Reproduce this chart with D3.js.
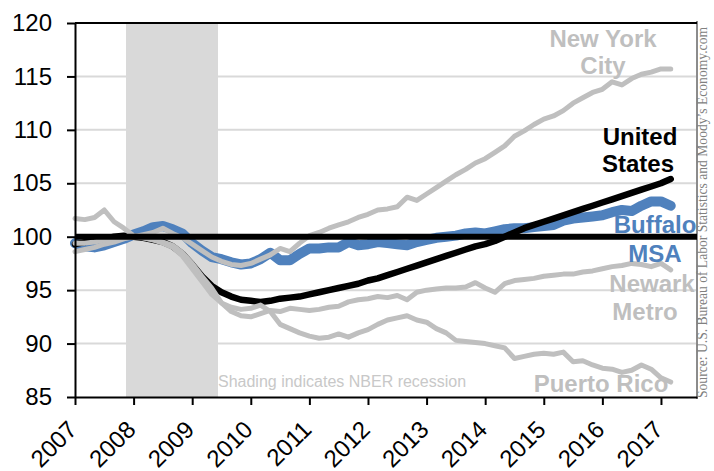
<!DOCTYPE html>
<html>
<head>
<meta charset="utf-8">
<script src="https://cdn.jsdelivr.net/npm/d3@7"></script>
<style>
  body { margin: 0; background: #fff; }
  svg { display: block; font-family: "Liberation Sans", Arial, sans-serif; }
</style>
</head>
<body>
<div id="chart"></div>
<script>
// data: employment index, months since Jan 2007 (every 2nd month)
const months = [0, 2, 4, 6, 8, 10, 12, 14, 16, 18, 20, 22, 24, 26, 28, 30, 32, 34, 36, 38,
  40, 42, 44, 46, 48, 50, 52, 54, 56, 58, 60, 62, 64, 66, 68, 70, 72, 74, 76, 78,
  80, 82, 84, 86, 88, 90, 92, 94, 96, 98, 100, 102, 104, 106, 108, 110, 112, 114, 116, 118,
  120, 122];

const unitedStates = [99.3, 99.5, 99.7, 99.8, 100.0, 100.1, 100.0, 99.9, 99.7, 99.5,
  99.1, 98.4, 97.4, 96.3, 95.4, 94.8, 94.4, 94.1, 94.0, 93.9,
  94.0, 94.2, 94.3, 94.4, 94.6, 94.8, 95.0, 95.2, 95.4, 95.6,
  95.9, 96.1, 96.4, 96.7, 97.0, 97.3, 97.6, 97.9, 98.2, 98.5,
  98.8, 99.1, 99.3, 99.6, 100.0, 100.4, 100.8, 101.1, 101.4, 101.7,
  102.0, 102.3, 102.6, 102.9, 103.2, 103.5, 103.8, 104.1, 104.4, 104.7,
  105.0, 105.4];

const buffalo = [99.4, 99.1, 99.0, 99.2, 99.5, 99.8, 100.2, 100.5, 100.9, 101.0,
  100.7, 100.3, 99.4, 98.7, 98.1, 97.9, 97.6, 97.4, 97.5, 97.9,
  98.5, 97.8, 97.8, 98.4, 98.9, 98.9, 99.0, 99.0, 99.5, 99.2,
  99.3, 99.5, 99.4, 99.3, 99.2, 99.5, 99.7, 99.9, 100.0, 100.1,
  100.3, 100.4, 100.3, 100.5, 100.7, 100.8, 100.8, 100.9, 101.0, 101.1,
  101.5, 101.7, 101.8, 101.9, 102.0, 102.3, 102.5, 102.4, 102.9, 103.3,
  103.3, 102.9];

const newYorkCity = [98.6, 98.8, 99.0, 99.3, 99.5, 99.8, 100.0, 100.2, 100.4, 100.8,
  100.3, 99.9, 99.3, 98.7, 98.1, 97.7, 97.4, 97.3, 97.5, 97.9,
  98.3, 98.9, 98.6, 99.4, 100.1, 100.4, 100.8, 101.1, 101.4, 101.8,
  102.1, 102.5, 102.6, 102.8, 103.7, 103.4, 104.0, 104.6, 105.2, 105.8,
  106.3, 106.9, 107.3, 107.9, 108.5, 109.4, 109.9, 110.5, 111.0, 111.3,
  111.8, 112.5, 113.0, 113.5, 113.8, 114.5, 114.2, 114.8, 115.2, 115.4,
  115.7, 115.7];

const newark = [99.4, 99.4, 99.5, 99.7, 99.8, 99.9, 100.0, 99.9, 99.7, 99.5,
  99.2, 98.5, 97.5, 96.3, 95.2, 93.8, 93.0, 92.6, 92.5, 92.8,
  93.1, 93.0, 93.3, 93.2, 93.1, 93.2, 93.4, 93.5, 93.9, 94.1,
  94.2, 94.4, 94.3, 94.5, 94.1, 94.8, 95.0, 95.1, 95.2, 95.2,
  95.3, 95.7, 95.2, 94.8, 95.6, 95.9, 96.0, 96.1, 96.3, 96.4,
  96.5, 96.5, 96.7, 96.8, 97.0, 97.2, 97.3, 97.5, 97.4, 97.2,
  97.5, 96.9];

const puertoRico = [101.7, 101.6, 101.8, 102.5, 101.4, 100.8, 100.1, 99.9, 99.7, 99.4,
  99.0, 98.2, 97.0, 95.8, 94.6, 93.8, 93.4, 93.2, 93.3, 93.6,
  93.0, 91.8, 91.4, 91.0, 90.7, 90.5, 90.6, 90.9, 90.6, 91.0,
  91.3, 91.8, 92.2, 92.4, 92.6, 92.2, 92.0, 91.4, 91.0, 90.3,
  90.2, 90.1, 90.0, 89.8, 89.6, 88.6, 88.8, 89.0, 89.1, 89.0,
  89.2, 88.3, 88.4, 88.0, 87.7, 87.6, 87.3, 87.5, 88.0, 87.6,
  86.8, 86.4];

const yTicks = [85, 90, 95, 100, 105, 110, 115, 120];
const xTicks = [2007, 2008, 2009, 2010, 2011, 2012, 2013, 2014, 2015, 2016, 2017];
const recession = [2007.87, 2009.44];

const W = 714, H = 471;
const margin = { top: 23, right: 17, bottom: 74, left: 75 };

const svg = d3.select("#chart").append("svg")
  .attr("width", W)
  .attr("height", H);

// scales
const x = d3.scaleLinear()
  .domain([2007, 2017.615])
  .range([margin.left, W - margin.right]);

const y = d3.scaleLinear()
  .domain([85, 120])
  .range([H - margin.bottom, margin.top]);

const gray = "#bfbfbf";
const blue = "#4f81bd";

// gridlines
svg.append("g")
  .selectAll("line")
  .data(yTicks.filter((d) => d !== 85 && d !== 120 && d !== 100))
  .enter()
  .append("line")
  .attr("x1", x.range()[0])
  .attr("x2", x.range()[1])
  .attr("y1", (d) => y(d))
  .attr("y2", (d) => y(d))
  .attr("stroke", "#d9d9d9")
  .attr("stroke-width", 2);

// recession shading
svg.append("rect")
  .attr("x", x(recession[0]))
  .attr("y", y(120))
  .attr("width", x(recession[1]) - x(recession[0]))
  .attr("height", y(85) - y(120))
  .attr("fill", "#d9d9d9");

svg.append("text")
  .attr("x", x(recession[1]))
  .attr("y", 387)
  .attr("fill", "#c8c8c8")
  .style("font-size", "16px")
  .text("Shading indicates NBER recession");

// right border + top border
svg.append("line")
  .attr("x1", x.range()[1]).attr("x2", x.range()[1])
  .attr("y1", y(120) - 2).attr("y2", y(85) + 2)
  .attr("stroke", "#8c8c8c")
  .attr("stroke-width", 2);

svg.append("line")
  .attr("x1", x.range()[0]).attr("x2", x.range()[1])
  .attr("y1", y(120)).attr("y2", y(120))
  .attr("stroke", "#000")
  .attr("stroke-width", 2);

// lines
const series = [
  { values: buffalo, color: blue, width: 10 },
  { values: unitedStates, color: "#000", width: 6.5 },
  { values: newYorkCity, color: gray, width: 5 },
  { values: newark, color: gray, width: 5 },
  { values: puertoRico, color: gray, width: 5 },
];

const line = (values) => d3.line()
  .x((d, i) => x(2007 + months[i] / 12))
  .y((d) => y(d))(values);

series.forEach((s) => {
  svg.append("path")
    .attr("d", line(s.values))
    .attr("fill", "none")
    .attr("stroke", s.color)
    .attr("stroke-width", s.width)
    .attr("stroke-linejoin", "round")
    .attr("stroke-linecap", "round");
});

// base 100 line
svg.append("line")
  .attr("x1", x.range()[0]).attr("x2", x.range()[1])
  .attr("y1", y(100)).attr("y2", y(100))
  .attr("stroke", "#000")
  .attr("stroke-width", 6);

// axes
const yAxis = svg.append("g")
  .attr("transform", `translate(${margin.left},0)`)
  .call(d3.axisLeft(y).tickValues(yTicks).tickSize(8).tickSizeOuter(0).tickPadding(15));

const xAxis = svg.append("g")
  .attr("transform", `translate(0,${y(85)})`)
  .call(d3.axisBottom(x).tickValues(xTicks).tickFormat(d3.format("d")).tickSize(8).tickSizeOuter(0));

[yAxis, xAxis].forEach((g) => {
  g.select(".domain").attr("stroke", "#000").attr("stroke-width", 2);
  g.selectAll(".tick line").attr("stroke", "#000").attr("stroke-width", 2);
  g.selectAll("text")
    .style("font-family", "'Liberation Sans', Arial, sans-serif")
    .style("font-size", "24px")
    .attr("fill", "#000");
});

// rotated year labels (sit low, as in the original)
xAxis.selectAll("text")
  .attr("text-anchor", "end")
  .attr("dy", null)
  .attr("y", 0)
  .attr("transform", "translate(3,34) rotate(-45)");

// series labels
const labels = [
  { text: "New York", x: 603, y: 47, color: gray },
  { text: "City", x: 603, y: 74, color: gray },
  { text: "United", x: 640, y: 145, color: "#000" },
  { text: "States", x: 638, y: 172, color: "#000" },
  { text: "Buffalo", x: 655, y: 233, color: blue },
  { text: "MSA", x: 655, y: 262, color: blue },
  { text: "Newark", x: 652, y: 292, color: gray },
  { text: "Metro", x: 645, y: 320, color: gray },
  { text: "Puerto Rico", x: 601, y: 392, color: gray },
];

svg.append("g")
  .selectAll("text")
  .data(labels)
  .enter()
  .append("text")
  .attr("x", (d) => d.x)
  .attr("y", (d) => d.y)
  .attr("text-anchor", "middle")
  .attr("fill", (d) => d.color)
  .style("font-size", "24px")
  .style("font-weight", "bold")
  .text((d) => d.text);

// source
svg.append("text")
  .attr("transform", "translate(707,398) rotate(-90)")
  .attr("fill", "#808080")
  .style("font-family", "'Liberation Serif', 'Times New Roman', serif")
  .style("font-size", "13.6px")
  .text("Source: U.S. Bureau of Labor Statistics and Moody\u2019s Economy.com");
</script>
</body>
</html>
